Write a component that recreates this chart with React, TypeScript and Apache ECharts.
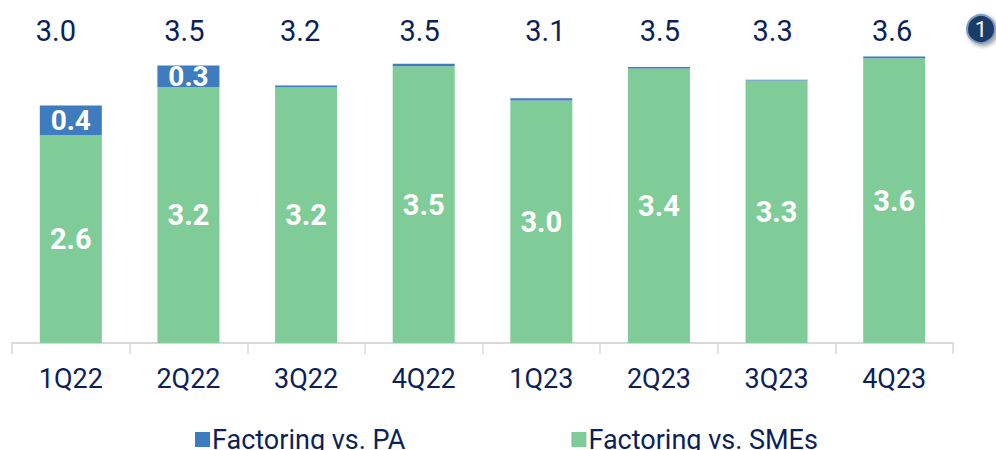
import React, { useEffect, useRef } from "react";
import * as echarts from "echarts";

const categories = ["1Q22", "2Q22", "3Q22", "4Q22", "1Q23", "2Q23", "3Q23", "4Q23"];
const smes = [2.6, 3.2, 3.2, 3.46, 3.03, 3.43, 3.28, 3.56];
const pa = [0.37, 0.27, 0.02, 0.03, 0.03, 0.02, 0.01, 0.02];
const totals = ["3.0", "3.5", "3.2", "3.5", "3.1", "3.5", "3.3", "3.6"];

const NAVY = "#0c1f5b";
const GREEN = "#7fcc98";
const BLUE = "#3f7bbf";
const FONT = "Roboto";
// horizontal nudges (px) of the total labels, as in the reference layout
const totalShift = [-15, -4, -6, -4, 4, 1, -4, -2];

export default function App() {
  const ref = useRef<HTMLDivElement>(null);
  useEffect(() => {
    const chart = echarts.init(ref.current!, null, { renderer: "svg" });
    const rich: any = {};
    totalShift.forEach((s, i) => {
      rich["t" + i] = {
        color: NAVY,
        fontSize: 29,
        fontFamily: FONT,
        padding: s < 0 ? [0, -2 * s, 0, 0] : [0, 0, 0, 2 * s],
      };
    });
    chart.setOption({
      animation: false,
      textStyle: { fontFamily: FONT },
      grid: [
        { left: 12, right: 43, top: 23, bottom: 107 },
        { left: 12, right: 43, top: 6, height: 1 },
      ],
      xAxis: [
        {
          type: "category",
          data: categories,
          gridIndex: 0,
          axisLine: { lineStyle: { color: "#d9d9d9", width: 2 } },
          axisTick: { show: true, length: 11, lineStyle: { color: "#d9d9d9", width: 1.5 } },
          axisLabel: { color: NAVY, fontSize: 27, fontFamily: FONT, margin: 22, interval: 0 },
        },
        {
          type: "category",
          data: totals,
          gridIndex: 1,
          position: "bottom",
          axisLine: { show: false },
          axisTick: { show: false },
          axisLabel: {
            color: NAVY,
            fontSize: 29,
            fontFamily: FONT,
            margin: 9,
            interval: 0,
            hideOverlap: false,
            formatter: (v: string, i: number) => `{t${i}|${v}}`,
            rich,
          },
        },
      ],
      yAxis: [
        { type: "value", min: 0, max: 4, show: false, gridIndex: 0 },
        { type: "value", show: false, gridIndex: 1 },
      ],
      legend: {
        data: ["Factoring vs. PA", "Factoring vs. SMEs"],
        left: 190,
        top: 421,
        icon: "rect",
        itemWidth: 15,
        itemHeight: 15,
        itemGap: 166,
        textStyle: { color: NAVY, fontSize: 27, fontFamily: FONT, padding: [0, 0, 0, -3] },
      },
      series: [
        {
          name: "Factoring vs. SMEs",
          type: "bar",
          stack: "total",
          data: smes,
          barWidth: 62,
          itemStyle: { color: GREEN },
          label: {
            show: true,
            position: "inside",
            color: "#ffffff",
            fontWeight: "bold",
            fontSize: 29,
            fontFamily: FONT,
            formatter: (p: any) => p.value.toFixed(1),
          },
        },
        {
          name: "Factoring vs. PA",
          type: "bar",
          stack: "total",
          data: pa,
          barWidth: 62,
          itemStyle: { color: BLUE },
          label: {
            show: true,
            position: "inside",
            color: "#ffffff",
            fontWeight: "bold",
            fontSize: 28,
            fontFamily: FONT,
            formatter: (p: any) => (p.value >= 0.1 ? p.value.toFixed(1) : ""),
          },
        },
      ],
      graphic: [
        {
          type: "circle",
          shape: { cx: 981, cy: 29, r: 14 },
          style: {
            fill: "#1f3b66",
            stroke: "#7f9cc4",
            lineWidth: 2,
            shadowBlur: 4,
            shadowOffsetX: 2,
            shadowOffsetY: 2,
            shadowColor: "rgba(0,0,0,0.4)",
          },
        },
        {
          type: "text",
          x: 981,
          y: 29,
          style: {
            text: "1",
            fill: "#ffffff",
            fontSize: 22,
            fontFamily: FONT,
            align: "center",
            verticalAlign: "middle",
          },
        },
      ],
    });
    return () => chart.dispose();
  }, []);
  return <div ref={ref} style={{ width: 996, height: 450, position: "absolute", left: 0, top: 0 }} />;
}
